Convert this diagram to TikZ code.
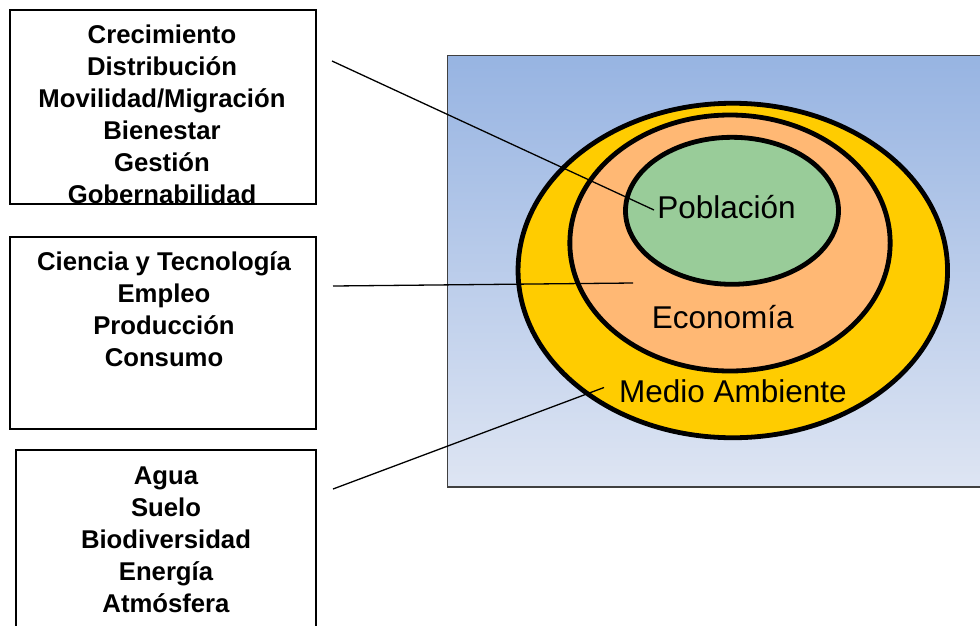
\documentclass[tikz,border=0pt]{standalone}
\usepackage{fontspec}
\setmainfont{Liberation Sans}
\usetikzlibrary{shapes.geometric}
\definecolor{bgtop}{RGB}{151,180,226}
\definecolor{bgbot}{RGB}{222,229,243}
\definecolor{envyellow}{RGB}{255,204,0}
\definecolor{ecoorange}{RGB}{255,184,116}
\definecolor{popgreen}{RGB}{153,204,153}
\definecolor{frame}{RGB}{64,64,64}
\tikzset{
  infobox/.style={draw=black, line width=1.3pt},
  infotext/.style={anchor=north, inner sep=0pt, align=center,
    font=\fontsize{25.7}{32}\selectfont\bfseries},
  ring/.style={draw=black, line width=4.8pt, ellipse, inner sep=0pt},
  biglabel/.style={inner sep=0pt, font=\fontsize{31.5}{38}\selectfont},
  leader/.style={draw=black, line width=1.3pt}
}
\begin{document}
\begin{tikzpicture}[x=1pt,y=-1pt]
\useasboundingbox (0,0) rectangle (980,625);
% left boxes
\draw[infobox] (10,10) rectangle (316,204);
\draw[infobox] (10,237) rectangle (316,429);
\draw[infobox] (16,450) rectangle (316,630);
\node[infotext] (t1) at (162,19) {\rule{0pt}{24pt}Crecimiento\\Distribución\\Movilidad/Migración\\Bienestar\\Gestión\\Gobernabilidad};
\node[infotext] (t2) at (164,246) {\rule{0pt}{24pt}Ciencia y Tecnología\\Empleo\\Producción\\Consumo};
\node[infotext] (t3) at (166,460) {\rule{0pt}{24pt}Agua\\Suelo\\Biodiversidad\\Energía\\Atmósfera};
% background panel
\shade[top color=bgtop, bottom color=bgbot, draw=frame, line width=1.3pt] (447.5,55.5) rectangle (990,487);
% rings
\node[ring, fill=envyellow, minimum width=429.5pt, minimum height=334.5pt] (env) at (732.8,270.5) {};
\node[ring, fill=ecoorange, minimum width=320.3pt, minimum height=256pt] (eco) at (730,243) {};
\node[ring, fill=popgreen, minimum width=213pt, minimum height=147pt] (pop) at (732,210.8) {};
% leader lines
\coordinate (s1) at (332,61);
\coordinate (e1) at (654,210);
\coordinate (s2) at (333,286);
\coordinate (e2) at (633,283);
\coordinate (s3) at (333,489);
\coordinate (e3) at (604,387.5);
\draw[leader] (s1) -- (e1);
\draw[leader] (s2) -- (e2);
\draw[leader] (s3) -- (e3);
% labels
\node[biglabel] (lpop) at (726.6,206.7) {Población};
\node[biglabel] (leco) at (722.7,316.7) {Economía};
\node[biglabel] (lenv) at (733,391.7) {Medio Ambiente};
\end{tikzpicture}
\end{document}
